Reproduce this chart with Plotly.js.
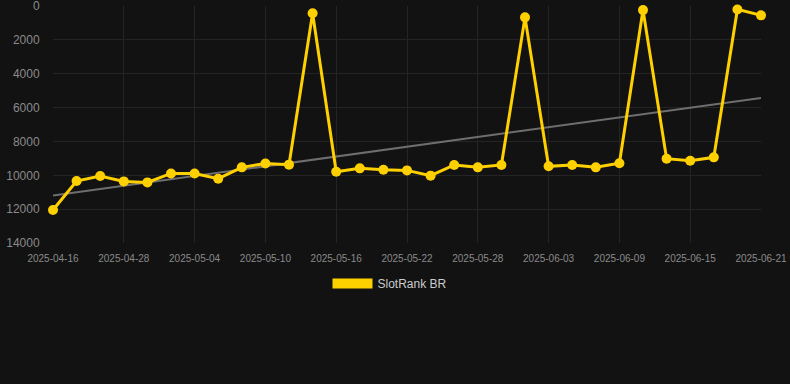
<!DOCTYPE html>
<html>
<head>
<meta charset="utf-8">
<script src="https://cdn.plot.ly/plotly-3.0.1.min.js"></script>
<style>
html,body{margin:0;padding:0;background:#121212;}
#chart{width:790px;height:384px;}
</style>
</head>
<body>
<div id="chart"></div>
<script>
// Dates of the observations (category axis; every third one is labelled)
const dates = [
  '2025-04-16','2025-04-20','2025-04-24','2025-04-28','2025-04-30','2025-05-02',
  '2025-05-04','2025-05-06','2025-05-08','2025-05-10','2025-05-12','2025-05-14',
  '2025-05-16','2025-05-18','2025-05-20','2025-05-22','2025-05-24','2025-05-26',
  '2025-05-28','2025-05-30','2025-06-01','2025-06-03','2025-06-05','2025-06-07',
  '2025-06-09','2025-06-11','2025-06-13','2025-06-15','2025-06-17','2025-06-19',
  '2025-06-21'
];
// SlotRank BR rank values
const rankBR = [
  12050, 10340, 10040, 10360, 10420, 9890,
  9890, 10200, 9530, 9300, 9370, 430,
  9790, 9590, 9670, 9710, 10020, 9390,
  9530, 9390, 670, 9470, 9390, 9530,
  9290, 240, 9020, 9140, 8940, 200,
  550
];
// Trend line end points (first and last date)
const trendDates = ['2025-04-16', '2025-06-21'];
const trendValues = [11200, 5430];
// Tick labels
const tickDates = ['2025-04-16','2025-04-28','2025-05-04','2025-05-10','2025-05-16','2025-05-22',
                   '2025-05-28','2025-06-03','2025-06-09','2025-06-15','2025-06-21'];
const yTicks = [0, 2000, 4000, 6000, 8000, 10000, 12000, 14000];

const yellow = '#FFD000';
const font = 'Liberation Sans, Arial, Helvetica, sans-serif';

const traces = [
  {
    x: trendDates, y: trendValues, type: 'scatter', mode: 'lines',
    line: {color: '#6e6e6e', width: 2}, showlegend: false, hoverinfo: 'skip',
    cliponaxis: false
  },
  {
    x: dates, y: rankBR, type: 'scatter', mode: 'lines+markers', name: 'SlotRank BR',
    line: {color: yellow, width: 3}, marker: {color: yellow, size: 10},
    showlegend: false, cliponaxis: false
  },
  {
    x: [null], y: [null], type: 'scatter', mode: 'lines', name: 'SlotRank BR',
    line: {color: yellow, width: 11}, showlegend: true, hoverinfo: 'skip'
  }
];

const layout = {
  width: 790, height: 384,
  paper_bgcolor: '#121212', plot_bgcolor: '#121212',
  margin: {l: 53, r: 29, t: 6, b: 141},
  font: {family: font, color: '#8a8a8a'},
  xaxis: {
    type: 'category', categoryorder: 'array', categoryarray: dates,
    range: [0, dates.length - 1],
    tickmode: 'array', tickvals: tickDates, ticktext: tickDates,
    showgrid: true, gridcolor: '#242424', gridwidth: 1,
    zeroline: false, showline: false,
    ticks: 'outside', ticklen: 6, tickcolor: 'rgba(0,0,0,0)',
    tickfont: {size: 10, color: '#8a8a8a', family: font}
  },
  yaxis: {
    range: [14000, -2], autorange: false,
    tickmode: 'array', tickvals: yTicks, ticktext: yTicks.map(String),
    showgrid: true, gridcolor: '#242424', gridwidth: 1,
    zeroline: false, showline: false,
    ticks: 'outside', ticklen: 10, tickcolor: 'rgba(0,0,0,0)',
    ticklabeloverflow: 'allow',
    tickfont: {size: 12, color: '#8a8a8a', family: font}
  },
  showlegend: true,
  legend: {
    orientation: 'h', xref: 'container', yref: 'container',
    x: 0.5 - 5/790, xanchor: 'center', y: 1 - 283.5/384, yanchor: 'middle',
    itemwidth: 40,
    font: {size: 12, color: '#cccccc', family: font},
    bgcolor: 'rgba(0,0,0,0)'
  }
};

Plotly.newPlot('chart', traces, layout, {displayModeBar: false, staticPlot: true});
</script>
</body>
</html>
